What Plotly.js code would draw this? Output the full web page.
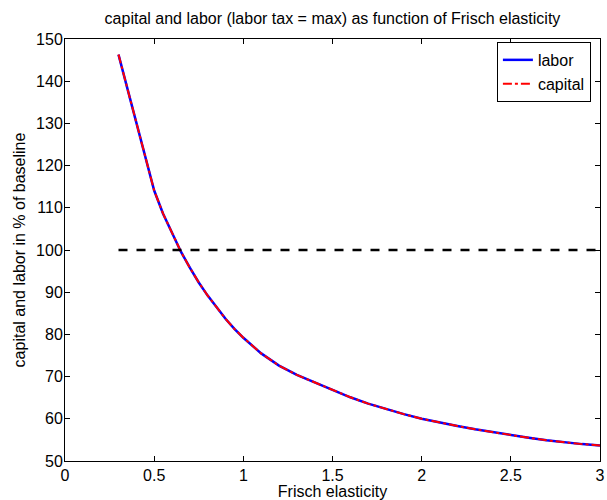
<!DOCTYPE html>
<html>
<head>
<meta charset="utf-8">
<script src="https://cdn.plot.ly/plotly-3.0.1.min.js"></script>
<style>html,body{margin:0;padding:0;background:#fff;}#chart{width:607px;height:500px;}</style>
</head>
<body>
<div id="chart"></div>
<script>
var frisch = [0.3,0.4,0.5,0.55,0.6,0.65,0.7,0.75,0.8,0.85,0.9,0.95,1.0,1.1,1.2,1.3,1.4,1.5,1.6,1.7,1.8,1.9,2.0,2.1,2.2,2.3,2.4,2.5,2.6,2.7,2.8,2.9,3.0];
var labor = [146.3,130.4,114.1,108.6,103.9,99.6,95.8,92.3,89.2,86.3,83.7,81.3,79.2,75.5,72.6,70.4,68.6,66.8,65.1,63.6,62.3,61.1,60.0,59.1,58.3,57.5,56.8,56.1,55.5,54.9,54.4,54.0,53.7];
var capital = labor.slice();
var baselineX = [0.3, 3.0];
var baselineY = [100, 100];
var xTicks = [0,0.5,1,1.5,2,2.5,3];
var xTickText = ['0','0.5','1','1.5','2','2.5','3'];
var yTicks = [50,60,70,80,90,100,110,120,130,140,150];

var traces = [
  {x: frisch, y: labor, mode: 'lines', name: 'labor', line: {color: '#0000ff', width: 2.5}},
  {x: frisch, y: capital, mode: 'lines', name: 'capital', line: {color: '#ff0000', width: 2, dash: 'dashdot'}},
  {x: baselineX, y: baselineY, mode: 'lines', showlegend: false, line: {color: '#000000', width: 2.5, dash: 'dash'}}
];
var FONT = 'Liberation Sans, Arial, sans-serif';
var axisCommon = {
  showgrid: false, zeroline: false, showline: true, linecolor: '#000', linewidth: 1,
  mirror: 'ticks', ticks: 'inside', ticklen: 5, tickcolor: '#000',
  tickfont: {family: FONT, size: 16, color: '#000'}
};
var layout = {
  width: 607, height: 500,
  margin: {l: 65, r: 7, t: 39, b: 39},
  paper_bgcolor: '#fff', plot_bgcolor: '#fff',
  font: {family: FONT, size: 16, color: '#000'},
  title: {text: 'capital and labor (labor tax = max) as function of Frisch elasticity', xref: 'paper', x: 0.5, xanchor: 'center', yref: 'container', y: 0.964, yanchor: 'middle', font: {size: 16, color: '#000'}},
  xaxis: Object.assign({}, axisCommon, {range: [0, 3], tickvals: xTicks, ticktext: xTickText, ticklabelstandoff: 0, title: {text: 'Frisch elasticity', standoff: 2, font: {size: 16}}}),
  yaxis: Object.assign({}, axisCommon, {range: [50, 150], tickvals: yTicks, ticklabelstandoff: -2, title: {text: 'capital and labor in % of baseline', standoff: 6, font: {size: 16}}}),
  legend: {x: 0.983, y: 0.993, xanchor: 'right', yanchor: 'top', bgcolor: '#fff', bordercolor: '#000', borderwidth: 1, font: {size: 16}, tracegroupgap: 0, itemwidth: 30}
};
Plotly.newPlot('chart', traces, layout, {displayModeBar: false, staticPlot: true});
</script>
</body>
</html>
